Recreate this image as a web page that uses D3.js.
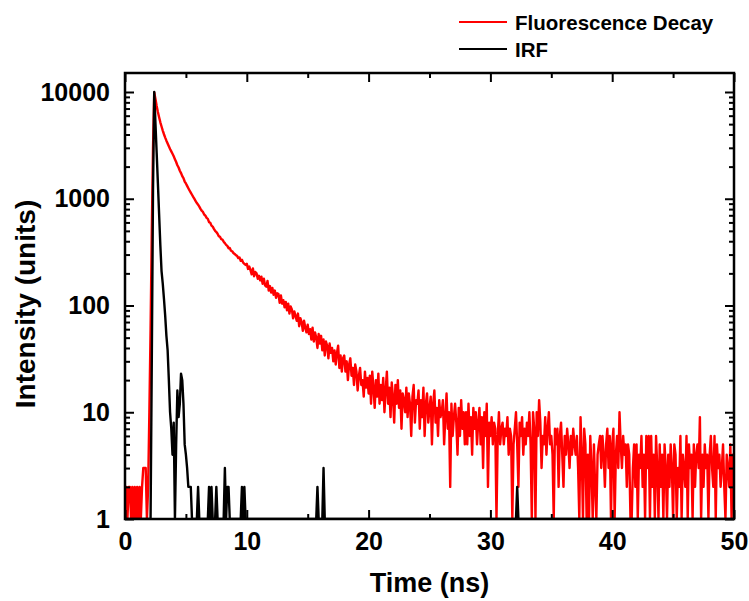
<!DOCTYPE html>
<html lang="en">
<head>
<meta charset="UTF-8">
<title>Fluorescence decay</title>
<script src="https://cdn.jsdelivr.net/npm/d3@7"></script>
<style>
  body { margin: 0; background: #fff; }
  text { font-family: "Liberation Sans", Arial, sans-serif; font-weight: bold; fill: #000; }
</style>
</head>
<body>
<svg id="svg"></svg>
<script>
// decay histogram, one count per 0.1 ns channel starting at 0 ns
const decayStart = 0;
const decayStep = 0.1;
const decayCounts = [
  1,2,1,2,2,1,2,1,2,1,
  2,1,2,1,2,3,3,3,1,2,
  10,60,500,3000,9900,8600,7400,6500,5800,5200,
  4750,4350,4020,3740,3500,3290,3100,2930,2780,2640,
  2500,2340,2210,2060,1960,1830,1740,1630,1560,1450,
  1390,1320,1255,1195,1140,1090,1040,995,952,912,
  880,845,805,772,752,712,695,662,648,604,
  596,560,548,522,500,488,470,446,440,418,
  414,396,384,370,362,344,346,326,322,310,
  304,296,292,278,282,262,268,252,246,240,
  246,220,232,214,196,222,188,206,200,178,
  190,172,186,160,178,154,150,170,138,152,
  132,146,126,138,118,130,128,106,124,104,
  112,96,108,90,104,84,98,92,76,88,
  80,72,84,64,76,70,58,72,62,56,
  66,54,60,48,62,46,56,50,40,54,
  44,52,38,48,34,46,42,32,44,36,
  40,30,38,28,36,42,26,34,24,32,
  34,24,30,20,28,32,22,26,18,28,
  24,16,22,26,18,20,14,24,17,21,
  15,22,12,24,17,11,20,14,23,12,
  18,13,21,10,16,24,12,17,9,19,
  14,8,18,12,20,11,16,7,15,13,
  10,17,9,15,12,6,14,18,8,13,
  12,16,7,13,9,17,6,12,15,8,
  11,14,5,12,16,8,11,6,13,9,
  10,13,5,9,15,7,10,2,12,6,
  9,12,8,4,11,6,13,7,10,5,
  10,5,12,6,9,4,11,7,10,5,
  8,11,5,9,3,10,6,12,2,8,
  6,9,5,8,7,1,6,10,5,7,
  8,5,7,6,9,4,7,6,1,5,
  7,10,5,2,8,6,9,4,7,5,
  8,6,10,5,1,10,7,1,10,6,
  13,8,3,6,5,9,4,7,10,5,
  6,4,1,7,5,7,2,6,8,4,
  2,6,4,7,5,3,6,4,7,5,
  4,6,3,1,9,4,1,7,5,1,
  4,1,6,3,1,5,2,1,4,5,
  6,3,6,4,2,5,7,3,6,1,
  5,7,1,4,6,3,10,5,3,6,
  4,5,2,5,4,1,1,3,5,2,
  5,1,4,3,6,2,4,1,6,3,
  6,1,6,2,4,1,6,3,1,5,
  2,4,1,5,3,1,4,2,5,3,
  1,5,4,1,3,2,6,1,4,3,
  2,6,1,5,3,4,1,5,2,4,
  5,3,9,1,4,2,5,3,4,1,
  4,6,3,2,6,1,5,3,4,2,
  3,5,2,1,4,3,2,5,1,4,
  3
];

// instrument response, only the channels that differ from the baseline
const irfTime = [
  0, 2.1, 2.2, 2.3, 2.4, 2.5, 2.6, 2.7, 2.8, 2.9,
  3.0, 3.1, 3.2, 3.3, 3.4, 3.5, 3.6, 3.7, 3.8, 3.9,
  4.0, 4.1, 4.2, 4.3, 4.4, 4.5, 4.6, 4.7, 4.8, 4.9,
  5.0, 5.1, 5.2, 5.3, 5.4, 5.5, 5.9, 6.0, 6.1,
  6.8, 6.9, 7.0, 7.1, 7.2, 7.4, 7.5, 7.6,
  8.1, 8.2, 8.3, 8.4, 8.5, 8.6,
  9.5, 9.6, 9.7, 9.8, 9.9,
  15.7, 15.8, 15.9, 16.2, 16.3, 16.4,
  32.1, 32.2, 32.3, 50
];
const irfCounts = [
  1, 1, 30, 1200, 10000, 5100, 2700, 1400, 720, 370,
  210, 160, 115, 80, 52, 38, 20, 10, 7, 4,
  8, 1, 5, 16, 9, 12, 23, 20, 12, 5,
  4, 3, 2, 2, 2, 1, 1, 2, 1,
  1, 2, 1, 2, 1, 1, 2, 1,
  1, 3, 1, 2, 2, 1,
  1, 2, 1, 2, 1,
  1, 2, 1, 1, 3, 1,
  1, 2, 1, 1
];

const xTicks = [0, 10, 20, 30, 40, 50];
const xMinorTicks = [5, 15, 25, 35, 45];
const yTicks = [1, 10, 100, 1000, 10000];
const seriesNames = ["Fluorescence Decay", "IRF"];
const seriesColors = ["#ff0000", "#000000"];

const width = 749, height = 601;
const plotLeft = 125, plotRight = 734, plotTop = 73, plotBottom = 519;

const svg = d3.select("#svg").attr("width", width).attr("height", height);

const x = d3.scaleLinear().domain([0, 50]).range([plotLeft, plotRight]);
const y = d3.scaleLog().domain([1, 10000]).range([plotBottom, 92]);

const yMinor = [];
yTicks.forEach(function(dec) {
  for (let k = 2; k <= 9; k++) {
    if (y(dec * k) > plotTop + 1) yMinor.push(dec * k);
  }
});

svg.append("clipPath").attr("id", "plot")
  .append("rect").attr("x", plotLeft).attr("y", plotTop)
  .attr("width", plotRight - plotLeft).attr("height", plotBottom - plotTop);

const decay = decayCounts.map(function(c, i) { return [decayStart + i * decayStep, c]; });
const irf = irfTime.map(function(t, i) { return [t, irfCounts[i]]; });

const line = d3.line()
  .x(function(d) { return x(d[0]); })
  .y(function(d) { return y(Math.max(d[1], 1)); });

const plot = svg.append("g").attr("clip-path", "url(#plot)");
[decay, irf].forEach(function(data, i) {
  plot.append("path")
    .attr("d", line(data))
    .attr("fill", "none")
    .attr("stroke", seriesColors[i])
    .attr("stroke-width", 2.4)
    .attr("stroke-linejoin", "round");
});

function styleAxis(g) {
  g.select(".domain").remove();
  g.selectAll(".tick line").attr("stroke", "#000").attr("stroke-width", 2);
  g.selectAll("text").attr("font-size", 25).attr("font-family", null);
}

svg.append("g").attr("transform", "translate(0," + plotBottom + ")")
  .call(d3.axisBottom(x).tickValues(xTicks).tickSize(-9).tickPadding(13))
  .call(styleAxis);
svg.append("g").attr("transform", "translate(0," + plotBottom + ")")
  .call(d3.axisBottom(x).tickValues(xMinorTicks).tickSize(-5).tickFormat(""))
  .call(styleAxis);
svg.append("g").attr("transform", "translate(0," + plotTop + ")")
  .call(d3.axisTop(x).tickValues(xTicks).tickSize(-9).tickFormat(""))
  .call(styleAxis);
svg.append("g").attr("transform", "translate(0," + plotTop + ")")
  .call(d3.axisTop(x).tickValues(xMinorTicks).tickSize(-5).tickFormat(""))
  .call(styleAxis);

svg.append("g").attr("transform", "translate(" + plotLeft + ",0)")
  .call(d3.axisLeft(y).tickValues(yTicks).tickSize(-9).tickPadding(15).tickFormat(d3.format("d")))
  .call(styleAxis);
svg.append("g").attr("transform", "translate(" + plotLeft + ",0)")
  .call(d3.axisLeft(y).tickValues(yMinor).tickSize(-5).tickFormat(""))
  .call(styleAxis);
svg.append("g").attr("transform", "translate(" + plotRight + ",0)")
  .call(d3.axisRight(y).tickValues(yTicks).tickSize(-9).tickFormat(""))
  .call(styleAxis);
svg.append("g").attr("transform", "translate(" + plotRight + ",0)")
  .call(d3.axisRight(y).tickValues(yMinor).tickSize(-5).tickFormat(""))
  .call(styleAxis);

svg.append("rect")
  .attr("x", plotLeft).attr("y", plotTop)
  .attr("width", plotRight - plotLeft).attr("height", plotBottom - plotTop)
  .attr("fill", "none").attr("stroke", "#000").attr("stroke-width", 2.5);

svg.append("text")
  .attr("x", (plotLeft + plotRight) / 2).attr("y", 592)
  .attr("text-anchor", "middle").attr("font-size", 27)
  .text("Time (ns)");

svg.append("text")
  .attr("transform", "translate(35,304) rotate(-90)")
  .attr("text-anchor", "middle").attr("font-size", 28)
  .text("Intensity (units)");

const legend = svg.append("g");
seriesNames.forEach(function(name, i) {
  const ly = 22 + i * 27;
  legend.append("line")
    .attr("x1", 459).attr("x2", 507).attr("y1", ly).attr("y2", ly)
    .attr("stroke", seriesColors[i]).attr("stroke-width", 2);
  legend.append("text")
    .attr("x", 515).attr("y", ly + 7.5)
    .attr("font-size", 20.5)
    .text(name);
});
</script>
</body>
</html>
